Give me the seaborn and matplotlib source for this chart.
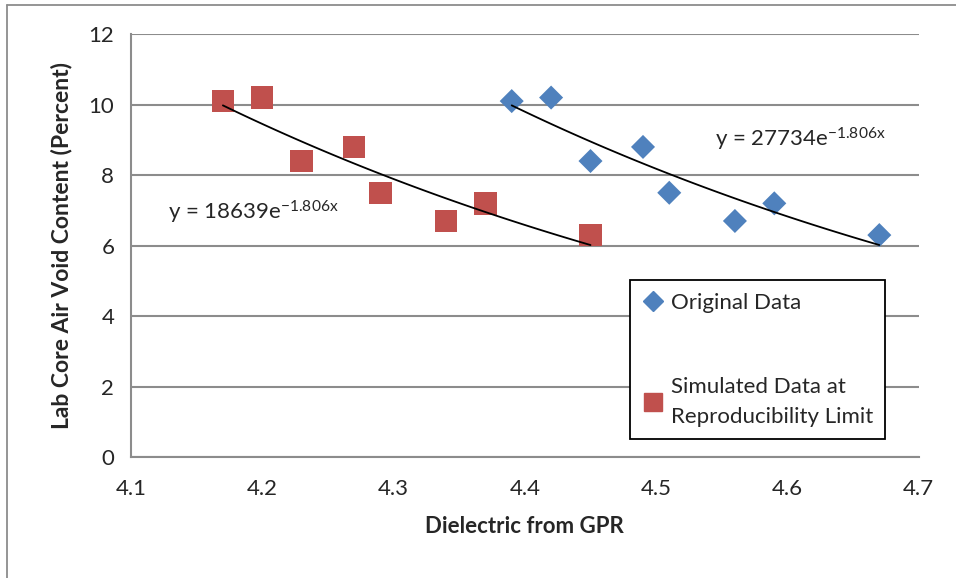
import numpy as np
import pandas as pd
import seaborn as sns
import matplotlib.pyplot as plt
from matplotlib.lines import Line2D

# --- data ---
orig_x = [4.39, 4.42, 4.45, 4.49, 4.51, 4.56, 4.59, 4.67]
orig_y = [10.1, 10.2, 8.4, 8.8, 7.5, 6.7, 7.2, 6.3]
sim_x = [4.17, 4.20, 4.23, 4.27, 4.29, 4.34, 4.37, 4.45]
sim_y = [10.1, 10.2, 8.4, 8.8, 7.5, 6.7, 7.2, 6.3]
labels = ["Original Data", "Simulated Data at\nReproducibility Limit"]
eq_texts = ["y = 27734e$^{-1.806x}$", "y = 18639e$^{-1.806x}$"]

blue = "#4F81BD"
red = "#C0504D"

df_orig = pd.DataFrame({"x": orig_x, "y": orig_y})
df_sim = pd.DataFrame({"x": sim_x, "y": sim_y})

sns.set_style("white")
plt.rcParams["font.family"] = ["Lato", "DejaVu Sans"]
plt.rcParams["mathtext.default"] = "regular"

fig = plt.figure(figsize=(9.56, 5.78), dpi=100)
ax = fig.add_axes([0.137, 0.209, 0.824, 0.732])

sns.scatterplot(data=df_orig, x="x", y="y", color=blue, marker="D", s=150,
                edgecolor="none", ax=ax, zorder=2)
sns.scatterplot(data=df_sim, x="x", y="y", color=red, marker="s", s=260,
                edgecolor="none", ax=ax, zorder=2)

# exponential trendlines (fit of log y on x), drawn over each data range
for xs, ys in [(orig_x, orig_y), (sim_x, sim_y)]:
    b, a = np.polyfit(xs, np.log(ys), 1)
    xx = np.linspace(min(xs), max(xs), 100)
    ax.plot(xx, np.exp(a) * np.exp(b * xx), color="black", lw=1.3, zorder=3)

ax.text(4.545, 9.0, eq_texts[0], fontsize=16, ha="left", va="center")
ax.text(4.128, 6.95, eq_texts[1], fontsize=16, ha="left", va="center")

ax.set_xlim(4.1, 4.7)
ax.set_ylim(0, 12)
ax.set_xticks(np.arange(4.1, 4.71, 0.1))
ax.set_yticks(range(0, 13, 2))
ax.grid(axis="y", color="#8c8c8c", lw=1.5)
ax.set_axisbelow(True)
for side in ["top", "right"]:
    ax.spines[side].set_visible(False)
for side in ["left", "bottom"]:
    ax.spines[side].set_color("#8c8c8c")
    ax.spines[side].set_linewidth(1.5)
ax.tick_params(axis="both", which="both", length=6, width=1.5, color="#8c8c8c",
               labelsize=16, direction="out")
ax.tick_params(axis="x", pad=10)
ax.tick_params(axis="y", pad=6)
ax.set_xlabel("Dielectric from GPR", fontsize=16, fontweight="bold", labelpad=12)
ax.set_ylabel("Lab Core Air Void Content (Percent)", fontsize=16.5,
              fontweight="bold", labelpad=12)

handles = [
    Line2D([], [], marker="D", color=blue, ls="none", markersize=10),
    Line2D([], [], marker="s", color=red, ls="none", markersize=13),
]
leg = ax.legend(handles, labels, loc="upper left", bbox_to_anchor=(0.633, 0.418),
                borderaxespad=0, fontsize=16, frameon=True, fancybox=False,
                edgecolor="black", labelspacing=2.9, handletextpad=0.3,
                borderpad=0.55, handlelength=1.0)
leg.get_frame().set_linewidth(1.3)
leg.get_frame().set_alpha(1)
for t in leg.get_texts():
    t.set_linespacing(1.6)

# outer chart border
fig.add_artist(plt.Line2D([7 / 956, 7 / 956], [0, 1 - 5 / 578],
                          transform=fig.transFigure, color="#8c8c8c", lw=1.3))
fig.add_artist(plt.Line2D([7 / 956, 1], [1 - 5 / 578, 1 - 5 / 578],
                          transform=fig.transFigure, color="#8c8c8c", lw=1.3))

fig.savefig("out.png", dpi=100)
